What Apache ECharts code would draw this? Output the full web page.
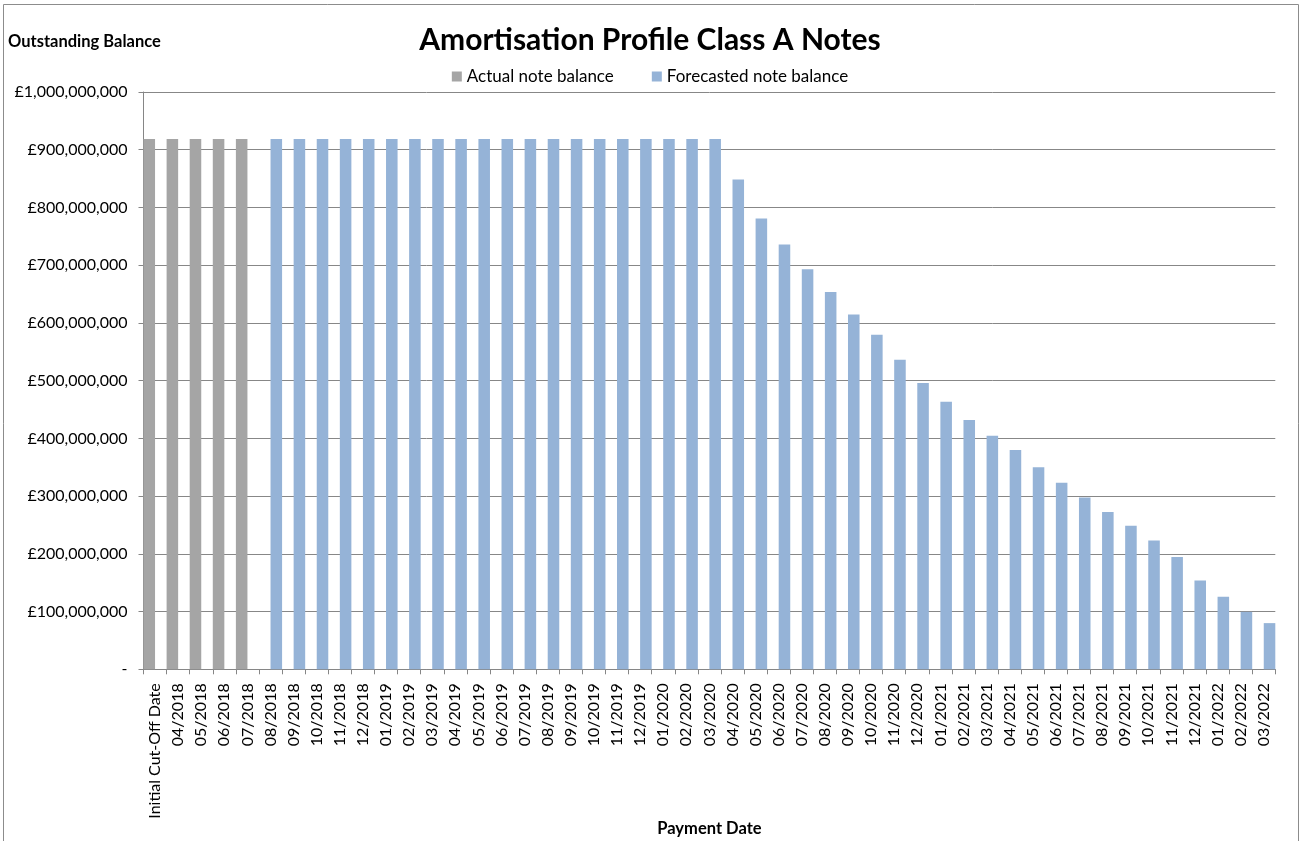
<!DOCTYPE html>
<html>
<head>
<meta charset="utf-8">
<script src="https://cdn.jsdelivr.net/npm/echarts@6/dist/echarts.min.js"></script>
<style>
html,body{margin:0;padding:0;background:#fff;}
#chart{width:1300px;height:841px;}
</style>
</head>
<body>
<div id="chart"></div>
<script>
var categories = ['Initial Cut-Off Date','04/2018','05/2018','06/2018','07/2018','08/2018','09/2018','10/2018','11/2018','12/2018',
  '01/2019','02/2019','03/2019','04/2019','05/2019','06/2019','07/2019','08/2019','09/2019','10/2019','11/2019','12/2019',
  '01/2020','02/2020','03/2020','04/2020','05/2020','06/2020','07/2020','08/2020','09/2020','10/2020','11/2020','12/2020',
  '01/2021','02/2021','03/2021','04/2021','05/2021','06/2021','07/2021','08/2021','09/2021','10/2021','11/2021','12/2021',
  '01/2022','02/2022','03/2022'];

var actualBalance = [918500000, 918500000, 918500000, 918500000, 918500000];

var forecastBalance = [null, null, null, null, null,
  918500000, 918500000, 918500000, 918500000, 918500000,
  918500000, 918500000, 918500000, 918500000, 918500000, 918500000, 918500000, 918500000, 918500000, 918500000, 918500000, 918500000,
  918500000, 918500000, 918500000,
  848500000, 781000000, 736000000, 693000000, 653500000, 614500000, 579500000, 536000000, 496000000,
  463500000, 432000000, 404500000, 380000000, 350000000, 323000000, 297500000, 272500000, 248500000, 223000000, 194500000, 154000000,
  125500000, 99500000, 80000000];

var yTicks = {min: 0, max: 1000000000, interval: 100000000};

var FONT = 'Lato';
function fmt(v){
  if (v === 0) return '-';
  return '£' + String(v).replace(/\B(?=(\d{3})+(?!\d))/g, ',');
}

var chart = echarts.init(document.getElementById('chart'), null, {renderer: 'canvas'});
chart.setOption({
  animation: false,
  backgroundColor: '#ffffff',
  textStyle: {fontFamily: FONT},
  graphic: [{
    type: 'rect', silent: true, z: -1,
    shape: {x: 3.5, y: 4.5, width: 1295, height: 900},
    style: {fill: 'none', stroke: '#8c8c8c', lineWidth: 1}
  }],
  title: [{
    text: 'Amortisation Profile Class A Notes',
    left: 'center', top: 20,
    textStyle: {fontFamily: FONT, fontSize: 30, fontWeight: 'bold', color: '#000'}
  }, {
    text: 'Outstanding Balance',
    left: 3, top: 28,
    textStyle: {fontFamily: FONT, fontSize: 16.5, fontWeight: 'bold', color: '#000'}
  }],
  legend: {
    top: 63, left: 'center',
    itemWidth: 10, itemHeight: 10, itemGap: 38,
    icon: 'rect',
    textStyle: {fontFamily: FONT, fontSize: 17, color: '#000'},
    data: ['Actual note balance', 'Forecasted note balance']
  },
  grid: {left: 143.5, right: 24.7, top: 92, bottom: 171.7, containLabel: false, outerBoundsMode: 'none'},
  xAxis: {
    type: 'category',
    data: categories,
    name: 'Payment Date',
    nameLocation: 'middle',
    nameGap: 151,
    nameMoveOverlap: false,
    nameTextStyle: {fontFamily: FONT, fontSize: 16.5, fontWeight: 'bold', color: '#000'},
    axisLine: {lineStyle: {color: '#868686', width: 1}},
    axisTick: {show: true, interval: 0, length: 5, lineStyle: {color: '#868686'}},
    axisLabel: {interval: 0, rotate: 90, margin: 14, fontFamily: FONT, fontSize: 16, color: '#000'},
    splitLine: {show: false}
  },
  yAxis: {
    type: 'value',
    min: yTicks.min, max: yTicks.max, interval: yTicks.interval,
    axisLine: {show: true, lineStyle: {color: '#868686', width: 1}},
    axisTick: {show: true, length: 5, lineStyle: {color: '#868686'}},
    axisLabel: {margin: 16, fontFamily: FONT, fontSize: 16, color: '#000', formatter: fmt},
    splitLine: {show: true, lineStyle: {color: '#878787', width: 1}}
  },
  series: [{
    name: 'Actual note balance',
    type: 'bar',
    data: actualBalance,
    barGap: '0%',
    barCategoryGap: '0%',
    itemStyle: {color: '#A5A5A5'}
  }, {
    name: 'Forecasted note balance',
    type: 'bar',
    data: forecastBalance,
    barGap: '0%',
    barCategoryGap: '0%',
    itemStyle: {color: '#95B3D7'}
  }]
});
</script>
</body>
</html>
